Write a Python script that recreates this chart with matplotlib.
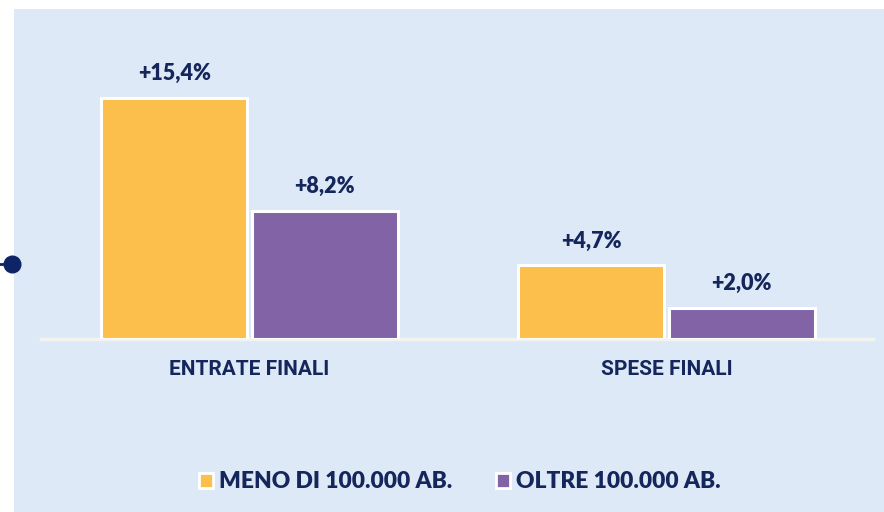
import matplotlib
matplotlib.use("Agg")
import matplotlib.pyplot as plt
from matplotlib.patches import Rectangle, Patch
from matplotlib.lines import Line2D
from matplotlib import font_manager

categories = ["ENTRATE FINALI", "SPESE FINALI"]
series_names = ["MENO DI 100.000 AB.", "OLTRE 100.000 AB."]
meno = [15.4, 4.7]
oltre = [8.2, 2.0]
value_labels_meno = ["+15,4%", "+4,7%"]
value_labels_oltre = ["+8,2%", "+2,0%"]

names = {f.name for f in font_manager.fontManager.ttflist}
cat_font = "Liberation Sans Narrow" if "Liberation Sans Narrow" in names else "Roboto"
val_font = "Lato"

W, H = 884, 512
fig = plt.figure(figsize=(W / 100, H / 100), dpi=100)
fig.patch.set_facecolor("white")

# background panel
panel = Rectangle((14 / W, 0), 1 - 14 / W, (H - 9) / H, transform=fig.transFigure,
                  facecolor="#dde9f6", edgecolor="none", zorder=0)
fig.add_artist(panel)

navy = "#15265c"
yellow = "#fcbf4b"
purple = "#8163a6"

# axes mapping
px_per_unit = 15.65
base_px = 339
top_px = 20
left_px, right_px = 41, 875
ax = fig.add_axes([left_px / W, (H - base_px) / H, (right_px - left_px) / W, (base_px - top_px) / H])
ax.set_facecolor("none")
ax.set_xlim(-0.5, 1.5)
ax.set_ylim(0, (base_px - top_px) / px_per_unit)
for s in ax.spines.values():
    s.set_visible(False)
ax.set_yticks([])
ax.tick_params(axis="x", length=0, pad=15)

x = [0, 1]
off = 0.18
bw = 0.35
b1 = ax.bar([i - off for i in x], meno, width=bw, color=yellow, edgecolor="white", linewidth=2.2, zorder=3)
b2 = ax.bar([i + off for i in x], oltre, width=bw, color=purple, edgecolor="white", linewidth=2.2, zorder=3)

ax.axhline(0, xmin=0, xmax=0.998, color="#f3f3f0", linewidth=2.5, zorder=2, clip_on=False)

for rect, lab in zip(b1, value_labels_meno):
    ax.annotate(lab, (rect.get_x() + rect.get_width() / 2, rect.get_height()), xytext=(0, 10),
                textcoords="offset points", ha="center", va="bottom", fontsize=15.5,
                fontweight="heavy", color=navy, family=val_font)
for rect, lab in zip(b2, value_labels_oltre):
    ax.annotate(lab, (rect.get_x() + rect.get_width() / 2, rect.get_height()), xytext=(0, 10),
                textcoords="offset points", ha="center", va="bottom", fontsize=15.5,
                fontweight="heavy", color=navy, family=val_font)

ax.set_xticks(x)
ax.set_xticklabels(categories, fontsize=15, fontweight="bold", color=navy, family=cat_font)

handles = [Patch(facecolor=yellow, edgecolor="white", linewidth=2),
           Patch(facecolor=purple, edgecolor="white", linewidth=2)]
leg = fig.legend(handles, series_names, loc="center", bbox_to_anchor=(460 / W, (H - 482) / H),
                 ncol=2, frameon=False, handlelength=0.6, handleheight=0.6, handletextpad=0.3,
                 columnspacing=1.9, prop={"family": val_font, "weight": "heavy", "size": 16.4})
for t in leg.get_texts():
    t.set_color(navy)

# navy connector dot on left
fig.add_artist(Line2D([0, 12 / W], [(H - 264) / H] * 2, transform=fig.transFigure,
                      color="#0f2466", linewidth=2, zorder=5))
fig.add_artist(Line2D([12 / W], [(H - 264) / H], transform=fig.transFigure, marker="o",
                      markersize=12, color="#0f2466", linestyle="none", zorder=6))

fig.savefig("out.png", dpi=100, facecolor=fig.get_facecolor())
